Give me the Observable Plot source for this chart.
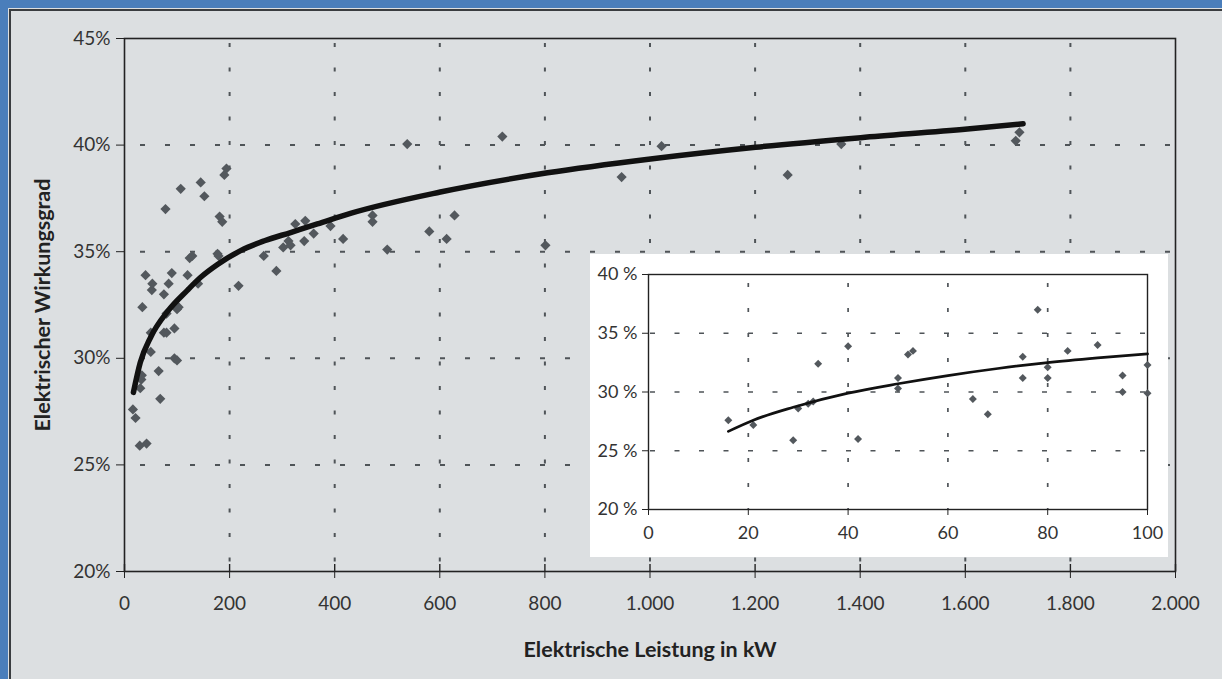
<!DOCTYPE html>
<html>
<head>
<meta charset="utf-8">
<script src="https://cdn.jsdelivr.net/npm/d3@7"></script>
<script src="https://cdn.jsdelivr.net/npm/@observablehq/plot@0.6"></script>
<style>
  html, body { margin: 0; padding: 0; background: #dcdfe1; }
  #wrap { position: relative; width: 1222px; height: 679px; background: #dcdfe1; overflow: hidden; font-family: Lato, "DejaVu Sans", sans-serif; }
  #main { position: absolute; left: 0; top: 0; }
  #inset { position: absolute; left: 590px; top: 254px; width: 578px; height: 303px; background: #ffffff; }
  .bl { position: absolute; left: 0; top: 0; width: 8px; height: 679px; background: #4a7ebb; }
  .bt { position: absolute; left: 0; top: 0; width: 1222px; height: 8px; background: #4a7ebb; }
  .ll { position: absolute; left: 9px; top: 9px; width: 2px; height: 670px; background: #3a3d40; }
  .lt { position: absolute; left: 9px; top: 9px; width: 1213px; height: 2px; background: #3a3d40; }
</style>
</head>
<body>
<div id="wrap">
  <div id="main"></div>
  <div id="inset"></div>
  <div class="bl"></div><div class="bt"></div><div class="ll"></div><div class="lt"></div>
</div>
<script>
// ---- Data ----
// Measured plants: electrical power (kW) and electrical efficiency (%)
const power = [
  16, 21, 29, 30, 32, 33, 34, 40, 42, 50, 50, 52, 53, 65, 68, 75, 75, 78, 80, 80, 84, 90, 95, 95, 100, 100,
  103, 107, 120, 124, 129, 140, 145, 152, 177, 179, 181, 186, 190, 194, 217,
  265, 289, 302, 312, 316, 325, 342, 344, 360, 392, 416, 472, 472, 500, 538,
  580, 613, 628, 719, 801, 946, 1022, 1262, 1364, 1696, 1703
];
const efficiency = [
  27.6, 27.2, 25.9, 28.6, 29.0, 29.2, 32.4, 33.9, 26.0, 31.2, 30.3, 33.2, 33.5, 29.4, 28.1, 33.0, 31.2, 37.0, 32.1, 31.2, 33.5, 34.0, 31.4, 30.0, 32.3, 29.9,
  32.4, 37.95, 33.9, 34.7, 34.8, 33.5, 38.25, 37.6, 34.9, 34.8, 36.65, 36.4, 38.6, 38.9, 33.4,
  34.8, 34.1, 35.2, 35.5, 35.3, 36.3, 35.5, 36.45, 35.85, 36.2, 35.6, 36.7, 36.4, 35.1, 40.05,
  35.95, 35.6, 36.7, 40.4, 35.3, 38.5, 39.95, 38.6, 40.05, 40.2, 40.6
];
// Trend line of the main chart
const trendKW  = [17, 30, 50, 82, 120, 145, 177, 221, 265, 316, 367, 430, 601, 805, 1001, 1201, 1401, 1604, 1710];
const trendEff = [28.4, 29.8, 31.0, 32.2, 33.2, 33.8, 34.4, 35.05, 35.5, 35.9, 36.3, 36.8, 37.8, 38.7, 39.35, 39.9, 40.35, 40.75, 41.0];
// Trend line of the inset (0–100 kW)
const insetTrendKW  = [16, 21, 29, 40, 50, 60, 70, 80, 90, 100];
const insetTrendEff = [26.65, 27.6, 28.7, 29.9, 30.7, 31.4, 32.0, 32.5, 32.9, 33.25];
// Axis ticks
const xTicks = [0, 200, 400, 600, 800, 1000, 1200, 1400, 1600, 1800, 2000];
const yTicks = [20, 25, 30, 35, 40, 45];
const insetXTicks = [0, 20, 40, 60, 80, 100];
const insetYTicks = [20, 25, 30, 35, 40];
const xTitle = "Elektrische Leistung in kW";
const yTitle = "Elektrischer Wirkungsgrad";

// ---- Build tables ----
const points = power.map((p, i) => ({p, e: efficiency[i]}));
const trend = trendKW.map((p, i) => ({p, e: trendEff[i]}));
const insetPoints = points.filter(d => d.p <= 100);
const insetTrend = insetTrendKW.map((p, i) => ({p, e: insetTrendEff[i]}));

const fontFamily = 'Lato, "DejaVu Sans", sans-serif';
const deFormat = d => d3.format(",")(d).replace(/,/g, ".");
const dotColor = "#53585d";
const gridColor = "#4f5458";

// ---- Main chart ----
const mainH = 679, mTop = 38, mBottom = 108;
const pxPerUnitY = (mainH - mTop - mBottom) / 25;
const main = Plot.plot({
  width: 1222,
  height: mainH,
  marginLeft: 124,
  marginRight: 47,
  marginTop: mTop,
  marginBottom: mBottom,
  x: {domain: [0, 2000]},
  y: {domain: [20, 45]},
  style: {background: "transparent", fontFamily, fontSize: "19px", color: "#333"},
  marks: [
    Plot.gridX(xTicks.slice(1, -1), {stroke: gridColor, strokeOpacity: 1, strokeWidth: 2, strokeDasharray: "4,20.5", strokeDashoffset: 19.5}),
    Plot.gridY(yTicks.slice(1, -1), {stroke: gridColor, strokeOpacity: 1, strokeWidth: 2, strokeDasharray: "5,20", strokeDashoffset: 9}),
    Plot.frame({stroke: "#222", strokeWidth: 1.6}),
    Plot.axisY({ticks: yTicks, tickFormat: d => d + "%", tickSize: 8, tickPadding: 6, label: null, stroke: "#222", fill: "#333", fontSize: 19}),
    Plot.axisX({ticks: xTicks, tickFormat: deFormat, tickSize: 7, tickPadding: 18, label: null, stroke: "#222", fill: "#333", fontSize: 19}),
    Plot.ruleX(xTicks, {x: d => d, y1: 20, y2: 20 + 7 / pxPerUnitY, stroke: "#222", strokeWidth: 1.4}),
    Plot.dot(points, {x: "p", y: "e", symbol: "diamond2", r: 4.6, fill: dotColor, stroke: "none"}),
    Plot.line(trend, {x: "p", y: "e", curve: "monotone-x", stroke: "#111", strokeWidth: 5.5, strokeLinecap: "round"}),
    Plot.text([xTitle], {text: d => d, frameAnchor: "bottom", dy: 79, textAnchor: "middle", lineAnchor: "middle", fontWeight: "bold", fontSize: 21.5, fill: "#222"}),
    Plot.text([yTitle], {text: d => d, frameAnchor: "left", dx: -81, rotate: -90, textAnchor: "middle", lineAnchor: "middle", fontWeight: "bold", fontSize: 21.5, fill: "#222"})
  ]
});
document.getElementById("main").appendChild(main);

// ---- Inset chart ----
const inset = Plot.plot({
  width: 578,
  height: 303,
  marginLeft: 58,
  marginRight: 21,
  marginTop: 20,
  marginBottom: 48,
  x: {domain: [0, 100]},
  y: {domain: [20, 40]},
  style: {background: "#ffffff", fontFamily, fontSize: "18px", color: "#333"},
  marks: [
    Plot.gridX(insetXTicks.slice(1, -1), {stroke: gridColor, strokeOpacity: 1, strokeWidth: 1.7, strokeDasharray: "4,21", strokeDashoffset: 16}),
    Plot.gridY(insetYTicks.slice(1, -1), {stroke: gridColor, strokeOpacity: 1, strokeWidth: 1.7, strokeDasharray: "5,19.5", strokeDashoffset: 22.5}),
    Plot.frame({stroke: "#222", strokeWidth: 1.4}),
    Plot.axisY({ticks: insetYTicks, tickFormat: d => d + " %", tickSize: 6, tickPadding: 5, label: null, stroke: "#222", fill: "#333", fontSize: 18}),
    Plot.axisX({ticks: insetXTicks, tickFormat: d => String(d), tickSize: 6, tickPadding: 11, label: null, stroke: "#222", fill: "#333", fontSize: 18}),
    Plot.dot(insetPoints, {x: "p", y: "e", symbol: "diamond2", r: 3.6, fill: dotColor, stroke: "none"}),
    Plot.line(insetTrend, {x: "p", y: "e", curve: "monotone-x", stroke: "#111", strokeWidth: 2.7})
  ]
});
document.getElementById("inset").appendChild(inset);
</script>
</body>
</html>
